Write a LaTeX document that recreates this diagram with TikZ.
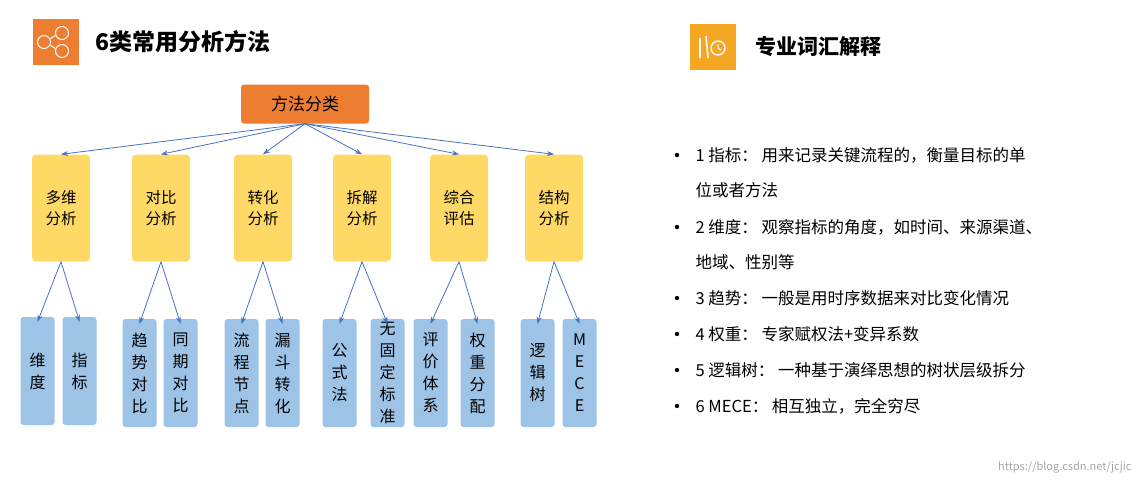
\documentclass[tikz,border=0pt]{standalone}
\usepackage{fontspec}
\setmainfont{Noto Sans CJK SC}
\usetikzlibrary{arrows.meta}
\definecolor{org}{HTML}{ED7D31}
\definecolor{yel}{HTML}{FFD966}
\definecolor{blu}{HTML}{9DC3E6}
\definecolor{arr}{HTML}{4472C4}
\definecolor{ico}{HTML}{F5A623}
\tikzset{
 ybox/.style={fill=yel,rounded corners=4pt,minimum width=58pt,minimum height=107pt,align=center,font=\fontsize{15.5}{21}\selectfont},
 bbox/.style={fill=blu,rounded corners=3pt,minimum width=34pt,minimum height=108pt,align=center,font=\fontsize{16}{22}\selectfont},
 con/.style={arr,line width=0.8pt,-{Stealth[length=7pt,width=5pt]}},
 itm/.style={anchor=west,font=\fontsize{16.5}{20}\selectfont},
}
\begin{document}
\begin{tikzpicture}[x=1pt,y=-1pt]
\useasboundingbox (0,0) rectangle (1140,483);
% left header
\node[fill=org,minimum size=46pt,inner sep=0] (ic1) at (56,42) {};
\draw[white,line width=1pt] (44,42) circle (6.5) (62,33) circle (6.5) (62,51) circle (6.5);
\draw[white,line width=1pt] (50,39) -- (56,35) (50,45) -- (56,49);
\node[anchor=west,font=\fontsize{23}{26}\selectfont\bfseries] (t1) at (92,42) {6类常用分析方法};
% right header
\node[fill=ico,minimum size=46pt,inner sep=0] (ic2) at (713,47) {};
\draw[white,line width=1.6pt] (700,38) -- (700,58) (706,36) -- (708,58);
\draw[white,line width=1.4pt] (718,48) circle (7);
\draw[white,line width=1pt] (718,48) -- (718,44) (718,48) -- (721,50);
\node[anchor=west,font=\fontsize{21}{24}\selectfont\bfseries] (t2) at (752,47) {专业词汇解释};
% tree
\node[fill=org,rounded corners=3pt,minimum width=128pt,minimum height=39pt,font=\fontsize{17}{20}\selectfont] (root) at (305,104) {方法分类};
\node[ybox] (y1) at (61,208) {多维\\分析};
\node[ybox] (y2) at (161,208) {对比\\分析};
\node[ybox] (y3) at (263,208) {转化\\分析};
\node[ybox] (y4) at (362,208) {拆解\\分析};
\node[ybox] (y5) at (459,208) {综合\\评估};
\node[ybox] (y6) at (554,208) {结构\\分析};
\foreach \i in {1,...,6} \draw[con] (root.south) -- (y\i.north);
\node[bbox] (b1) at (37.5,371) {维\\度};
\node[bbox] (b2) at (79.5,371) {指\\标};
\node[bbox] (b3) at (139.5,373) {趋\\势\\对\\比};
\node[bbox] (b4) at (180.5,373) {同\\期\\对\\比};
\node[bbox] (b5) at (241.5,373) {流\\程\\节\\点};
\node[bbox] (b6) at (282.5,373) {漏\\斗\\转\\化};
\node[bbox] (b7) at (339.5,373) {公\\式\\法};
\node[bbox] (b8) at (387.5,373) {无\\固\\定\\标\\准};
\node[bbox] (b9) at (430.5,373) {评\\价\\体\\系};
\node[bbox] (b10) at (477.5,373) {权\\重\\分\\配};
\node[bbox] (b11) at (537.5,373) {逻\\辑\\树};
\node[bbox] (b12) at (579.5,373) {M\\E\\C\\E};
\foreach \p/\a/\b in {1/1/2,2/3/4,3/5/6,4/7/8,5/9/10,6/11/12}{
  \draw[con] (y\p.south) -- ([yshift=-5pt]b\a.north);
  \draw[con] (y\p.south) -- ([yshift=-5pt]b\b.north);
}
% list
\foreach \yy/\txt in {155/{1 指标：  用来记录关键流程的，衡量目标的单},227/{2 维度：  观察指标的角度，如时间、来源渠道、},298/{3 趋势：  一般是用时序数据来对比变化情况},334/{4 权重：  专家赋权法+变异系数},370/{5 逻辑树：  一种基于演绎思想的树状层级拆分},406/{6 MECE：  相互独立，完全穷尽}}{
  \fill (677,\yy) circle (2.2pt);
  \node[itm] at (692,\yy) {\txt};
}
\node[itm] (l1b) at (692,190) {位或者方法};
\node[itm] (l2b) at (692,262) {地域、性别等};
\node[anchor=east,text=gray!70,font=\fontsize{11}{12}\selectfont] (url) at (1135,467) {https://blog.csdn.net/jcjic};
\end{tikzpicture}
\end{document}
